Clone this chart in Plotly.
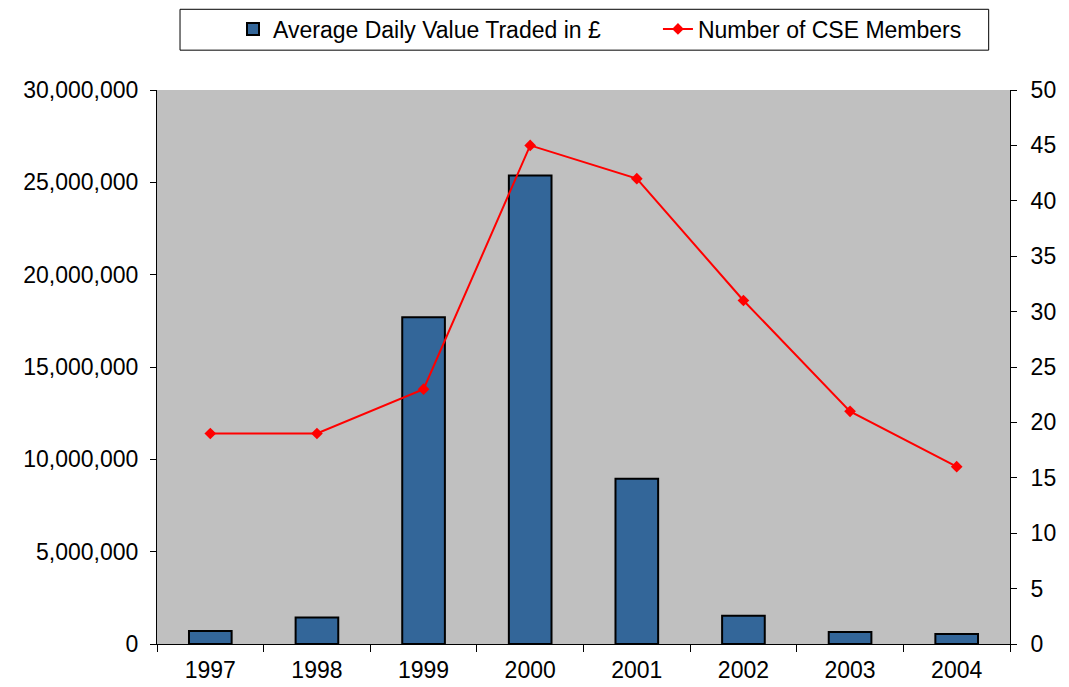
import plotly.graph_objects as go

years = ["1997", "1998", "1999", "2000", "2001", "2002", "2003", "2004"]
avg_daily_value = [700000, 1430000, 17700000, 25370000, 8950000, 1530000, 650000, 540000]
cse_members = [19, 19, 23, 45, 42, 31, 21, 16]

fig = go.Figure()
fig.add_trace(go.Bar(
    x=years, y=avg_daily_value, name="Average Daily Value Traded in £",
    marker=dict(color="#336699", line=dict(color="black", width=2)),
    width=0.4, legend="legend",
))
fig.add_trace(go.Scatter(
    x=years, y=cse_members, name="Number of CSE Members", yaxis="y2",
    mode="lines+markers",
    line=dict(color="#FF0000", width=2),
    marker=dict(symbol="diamond", size=9, color="#FF0000"),
    legend="legend2",
))

font = dict(family="Liberation Sans, Arial", size=23, color="black")
leg_common = dict(
    orientation="h", xanchor="left", yanchor="middle", y=0.9694,
    xref="container", yref="container",
    bgcolor="rgba(0,0,0,0)", borderwidth=0, font=font,
)
fig.update_layout(
    width=1069, height=687,
    margin=dict(l=149, r=67, t=82, b=49),
    paper_bgcolor="white", plot_bgcolor="#C0C0C0",
    font=font,
    showlegend=True,
    legend=dict(x=0.2105, **leg_common),
    legend2=dict(x=0.608, **leg_common),
    shapes=[dict(
        type="rect", xref="paper", yref="paper",
        x0=0.027, x1=0.975, y0=1.0719, y1=1.1457,
        line=dict(color="black", width=1), fillcolor="rgba(0,0,0,0)",
        layer="below",
    )],
    xaxis=dict(
        showline=True, linecolor="black", linewidth=1,
        ticks="outside", ticklen=7, tickcolor="black",
        tickson="boundaries", showgrid=False, ticklabelstandoff=5,
    ),
    yaxis=dict(
        range=[0, 30000000], dtick=5000000, tickformat=",d",
        showline=True, linecolor="black", linewidth=1,
        ticks="outside", ticklen=6, tickcolor="black", showgrid=False,
        zeroline=False, ticklabelstandoff=7,
    ),
    yaxis2=dict(
        range=[0, 50], dtick=5, overlaying="y", side="right",
        showline=True, linecolor="black", linewidth=1,
        ticks="outside", ticklen=6, tickcolor="black", showgrid=False,
        zeroline=False, ticklabelstandoff=9,
    ),
)

fig.write_html("out.html")
